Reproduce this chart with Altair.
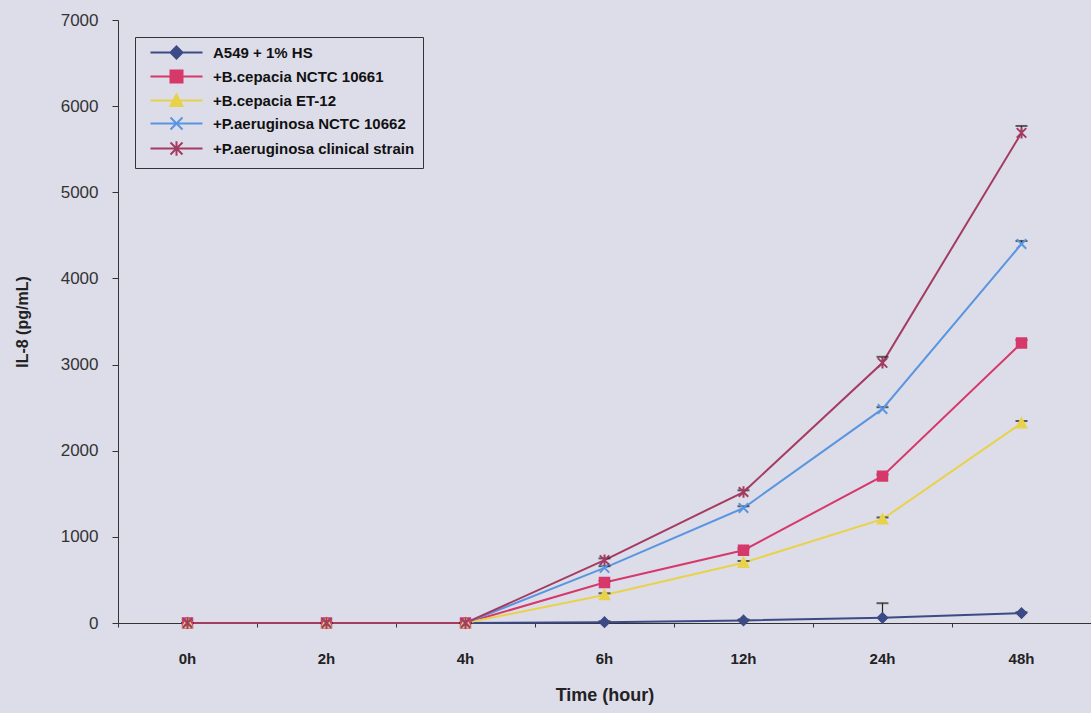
import altair as alt
import pandas as pd

times = ["0h", "2h", "4h", "6h", "12h", "24h", "48h"]
series = ["A549 + 1% HS", "+B.cepacia NCTC 10661", "+B.cepacia ET-12",
          "+P.aeruginosa NCTC 10662", "+P.aeruginosa clinical strain"]
colors = ["#3c4a86", "#d6386a", "#e8d24a", "#5a96e0", "#a43c62"]

a549 = [0, 0, 0, 10, 30, 60, 115]
bc10661 = [0, 0, 0, 470, 845, 1705, 3250]
bcet12 = [0, 0, 0, 325, 700, 1205, 2320]
pa10662 = [0, 0, 0, 640, 1335, 2485, 4400]
paclin = [0, 0, 0, 730, 1520, 3020, 5690]

a549_err = [0, 0, 0, 10, 10, 170, 10]
bc10661_err = [0, 0, 0, 20, 20, 20, 35]
bcet12_err = [0, 0, 0, 20, 20, 20, 25]
pa10662_err = [0, 0, 0, 20, 20, 20, 35]
paclin_err = [0, 0, 0, 20, 20, 70, 80]

values = [a549, bc10661, bcet12, pa10662, paclin]
errs = [a549_err, bc10661_err, bcet12_err, pa10662_err, paclin_err]

rows = []
for s, vals, es in zip(series, values, errs):
    for t, v, e in zip(times, vals, es):
        rows.append({"series": s, "time": t, "value": v, "top": v + e})
df = pd.DataFrame(rows)

marker_paths = [
    "M0,-1L1,0L0,1L-1,0Z",
    "M-1,-1L1,-1L1,1L-1,1Z",
    "M0,-1L1,0.9L-1,0.9Z",
    "M-1,-1L1,1M-1,1L1,-1",
    "M-1,-1L1,1M-1,1L1,-1M0,-1.2L0,1.2",
]


def stub(c, L, marker):
    return f"M{c - L},0L{c + L},0" + marker


# legend symbols: a line stub with the marker in its middle (centred at c)
c = 6.5
k = 1.5
L = 6.5
legend_paths = [
    stub(c, L, f"M{c},-{k}L{c + k},0L{c},{k}L{c - k},0Z"),
    stub(c, L, f"M{c - k},-{k}L{c + k},-{k}L{c + k},{k}L{c - k},{k}Z"),
    stub(c, L, f"M{c},-{k}L{c + k},{k * 0.9}L{c - k},{k * 0.9}Z"),
    stub(c, L, f"M{c - k},-{k}L{c + k},{k}M{c - k},{k}L{c + k},-{k}"),
    stub(c, L, f"M{c - k},-{k}L{c + k},{k}M{c - k},{k}L{c + k},-{k}M{c},-{k * 1.2}L{c},{k * 1.2}"),
]

FONT = "Liberation Sans"

x_enc = alt.X("time:N", sort=times, title="Time (hour)",
              scale=alt.Scale(domain=times, paddingInner=0, paddingOuter=0),
              axis=alt.Axis(bandPosition=0, labelFont=FONT, labelFontSize=15,
                            labelFontWeight="bold", labelColor="#222", labelPadding=24,
                            labelAngle=0, titleFont=FONT, titleFontSize=18,
                            titleFontWeight="bold", titleColor="#222", titlePadding=20,
                            domainColor="#333", tickColor="#333", tickSize=4,
                            grid=False))
y_enc = alt.Y("value:Q", title="IL-8 (pg/mL)",
              scale=alt.Scale(domain=[0, 7000], nice=False),
              axis=alt.Axis(values=list(range(0, 7001, 1000)), format="d",
                            labelFont=FONT, labelFontSize=17, labelColor="#333",
                            labelPadding=14, titleFont=FONT, titleFontSize=16,
                            titleFontWeight="bold", titleColor="#222", titlePadding=30,
                            domainColor="#333", tickColor="#333", tickSize=6,
                            grid=False))

color_scale = alt.Scale(domain=series, range=colors)

base = alt.Chart(df)

err_rule = base.mark_rule(color="#222", strokeWidth=1.2).encode(
    x=x_enc, y=y_enc, y2="top:Q")
err_cap = base.mark_tick(color="#222", thickness=2, size=12, orient="horizontal").encode(
    x=x_enc, y=alt.Y("top:Q"))

lines = base.mark_line(strokeWidth=2).encode(
    x=x_enc, y=y_enc,
    color=alt.Color("series:N", scale=color_scale, legend=None),
    detail="series:N")

points = base.mark_point(filled=False, size=90, strokeWidth=2, opacity=1).encode(
    x=x_enc, y=y_enc,
    shape=alt.Shape("series:N", scale=alt.Scale(domain=series, range=marker_paths), legend=None),
    fill=alt.Fill("series:N", scale=alt.Scale(domain=series, range=colors), legend=None),
    stroke=alt.Stroke("series:N", scale=alt.Scale(domain=series, range=colors), legend=None))

leg = alt.Legend(title=None, orient="none", legendX=17, legendY=17,
                 strokeColor="#333", fillColor="#dddde9", padding=8,
                 labelFont=FONT, labelFontSize=15, labelFontWeight="bold",
                 labelColor="#111", symbolSize=64, symbolStrokeWidth=2,
                 rowPadding=3, labelOffset=55, labelLimit=400)

legend_layer = base.transform_filter("datum.time == 'none'").mark_point(
    filled=False, size=64, strokeWidth=2, opacity=1).encode(
    x=x_enc, y=y_enc,
    shape=alt.Shape("series:N", scale=alt.Scale(domain=series, range=legend_paths), legend=leg),
    fill=alt.Fill("series:N", scale=alt.Scale(domain=series, range=colors), legend=leg),
    stroke=alt.Stroke("series:N", scale=alt.Scale(domain=series, range=colors), legend=leg))

chart = alt.layer(lines, err_rule, err_cap, points, legend_layer).resolve_scale(
    shape="independent", fill="independent", stroke="independent"
).properties(
    width=973, height=603, autosize="none",
    padding={"left": 118, "top": 20, "right": 0, "bottom": 90},
    background="#dddde9"
).configure_view(stroke=None, fill="#dddde9")

chart.save("out.html", embed_options={"renderer": "svg", "actions": False})
